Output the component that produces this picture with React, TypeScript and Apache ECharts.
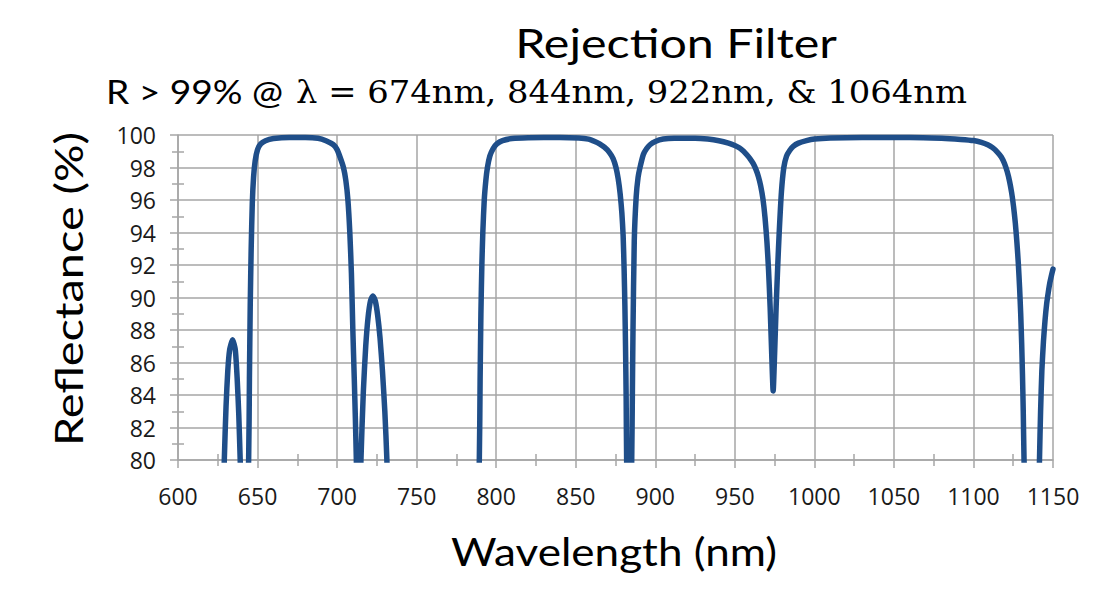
import React, { useEffect, useRef } from "react";
import * as echarts from "echarts";

// Measured spectrum: [wavelength (nm), reflectance (%)]; values under 80 fall below the visible range
const spectrum: [number, number][] = [
  [600, 40], [620, 55], [626.5, 70],
  [629.1, 80], [630.2, 83.3], [631.3, 85.5], [632.5, 86.8], [634.3, 87.4], [636, 86.8], [637.2, 85], [638.2, 82.8], [639.1, 80],
  [641.7, 72],
  [644.4, 80], [644.9, 85], [645.4, 89.5], [646, 93], [646.7, 95.8], [647.5, 97.4], [648.5, 98.4], [650, 99.1], [652, 99.45],
  [655, 99.65], [660, 99.78], [670, 99.85], [680, 99.85], [688, 99.8], [693, 99.65], [697.7, 99.4], [700, 99.1], [702, 98.6],
  [704, 98], [705.5, 97.2], [706.8, 96], [708, 94], [709, 91.5], [709.9, 88], [710.8, 85], [711.5, 82.5], [712.1, 80],
  [713.5, 72],
  [715, 80], [716.5, 84.2], [718, 87], [719.5, 88.8], [721, 89.8], [722.5, 90.1], [724, 89.8], [725.5, 88.9], [727, 87.5],
  [728.5, 85.5], [730, 83], [731.3, 80],
  [735, 65], [760, 40], [785, 65],
  [789.4, 80], [789.9, 85], [790.4, 89], [791, 92], [791.6, 94], [792.5, 96], [793.5, 97.2], [794.5, 98], [796, 98.7],
  [798, 99.15], [800.4, 99.45], [804, 99.65], [810, 99.78], [820, 99.83], [840, 99.85], [852, 99.82], [858, 99.75],
  [862, 99.6], [865, 99.45], [868, 99.25], [871, 98.95], [873.5, 98.55], [875.3, 98], [876.7, 97.3], [877.9, 96.4],
  [879, 95.2], [879.8, 93.8], [880.4, 91.8], [880.9, 89.5], [881.3, 87], [881.7, 83.8], [882, 80],
  [883.6, 72],
  [885.2, 80], [885.6, 84], [886, 88], [886.8, 93.5], [888, 96.2], [889.2, 97.4], [890.4, 98], [892.5, 98.8], [894.5, 99.15],
  [896.7, 99.4], [900, 99.6], [905, 99.75], [912, 99.8], [925, 99.8], [933, 99.75], [940, 99.65], [946, 99.5], [950, 99.35],
  [953, 99.2], [955.5, 99], [957.4, 98.8], [959.5, 98.55], [961.5, 98.25], [963.2, 97.9], [964.8, 97.45], [966.3, 96.85],
  [967.7, 96.05], [969, 94.9], [970.2, 93.4], [971.2, 91.7], [972.2, 89.4], [973.2, 86.5], [974.1, 84.25], [975, 86.5],
  [976, 89.5], [977, 92], [977.9, 94], [979.3, 96.5], [980.8, 98], [982.5, 98.7], [984.5, 99.05], [986.7, 99.3], [990, 99.5],
  [995, 99.65], [1000, 99.75],
  [1010, 99.82], [1030, 99.85], [1060, 99.85], [1080, 99.8], [1092, 99.73], [1100, 99.66], [1105, 99.55], [1109, 99.4],
  [1112, 99.22], [1115, 98.95], [1117.5, 98.65], [1119.5, 98.25], [1121.2, 97.75], [1122.7, 97.15], [1124, 96.45],
  [1125.2, 95.6], [1126.3, 94.6], [1127.3, 93.4], [1128.2, 92.1], [1129, 90.6], [1129.7, 89], [1130.3, 87.2],
  [1130.8, 85.3], [1131.3, 83], [1131.8, 80],
  [1134, 72], [1137, 65], [1140, 72],
  [1141.5, 80], [1142.2, 83], [1143, 85.5], [1144, 87.3], [1145, 88.6], [1146, 89.6], [1147, 90.3], [1148, 90.9],
  [1149, 91.35], [1150, 91.75],
];

const xMin = 600;
const xMax = 1150;
const xStep = 50;
const yMin = 80;
const yMax = 100;
const yStep = 2;

const titleText = "Rejection Filter";
const subtitleSans = "R > 99% @";
const subtitleSerif = "λ = 674nm, 844nm, 922nm, & 1064nm";
const xName = "Wavelength (nm)";
const yName = "Reflectance (%)";

const GRID_COLOR = "#A6A6A6";
const LINE_COLOR = "#1F4E89";
const SANS = "Lato, 'Open Sans', sans-serif";
const TICK_FONT = "'Open Sans', Lato, sans-serif";

export default function App() {
  const ref = useRef<HTMLDivElement>(null);

  useEffect(() => {
    if (!ref.current) return;
    const chart = echarts.init(ref.current, null, { renderer: "svg" });

    const baseX = { type: "value", min: xMin, max: xMax, interval: xStep, position: "bottom" };
    const baseY = { type: "value", min: yMin, max: yMax, interval: yStep, position: "left" };
    const gridLine = { color: GRID_COLOR, width: 1.5 };

    chart.setOption({
      animation: false,
      backgroundColor: "#ffffff",
      grid: { left: 178, right: 55, top: 135, bottom: 131, containLabel: false },
      xAxis: [
        {
          ...baseX,
          axisLine: { show: true, lineStyle: gridLine },
          axisTick: { show: true, inside: false, length: 8, lineStyle: gridLine },
          minorTick: { show: true, splitNumber: 2, length: 6, lineStyle: gridLine },
          axisLabel: {
            show: true,
            margin: 24,
            color: "#1a1a1a",
            fontSize: 23,
            fontFamily: TICK_FONT,
            formatter: (v: number) => String(v),
          },
          splitLine: { show: true, lineStyle: gridLine },
        },
        {
          ...baseX,
          axisLine: { show: false },
          axisTick: { show: false, inside: true },
          minorTick: { show: true, splitNumber: 2, length: 6, lineStyle: gridLine },
          axisLabel: { show: false },
          splitLine: { show: false },
        },
      ],
      yAxis: [
        {
          ...baseY,
          axisLine: { show: true, lineStyle: gridLine },
          axisTick: { show: true, inside: false, length: 8, lineStyle: gridLine },
          minorTick: { show: true, splitNumber: 2, length: 6, lineStyle: gridLine },
          axisLabel: {
            show: true,
            margin: 22,
            color: "#1a1a1a",
            fontSize: 23,
            fontFamily: TICK_FONT,
            formatter: (v: number) => String(v),
          },
          splitLine: { show: true, lineStyle: gridLine },
        },
        {
          ...baseY,
          axisLine: { show: false },
          axisTick: { show: false, inside: true },
          minorTick: { show: true, splitNumber: 2, length: 6, lineStyle: gridLine },
          axisLabel: { show: false },
          splitLine: { show: false },
        },
      ],
      graphic: [
        {
          type: "text",
          x: 676,
          y: 42,
          scaleX: 1.18,
          style: {
            text: titleText,
            fontFamily: SANS,
            fontSize: 41,
            fill: "#000",
            align: "center",
            verticalAlign: "middle",
          },
        },
        {
          type: "text",
          x: 106,
          y: 92,
          scaleX: 1.16,
          style: {
            text: subtitleSans,
            fontFamily: SANS,
            fontSize: 32,
            fill: "#000",
            align: "left",
            verticalAlign: "middle",
          },
        },
        {
          type: "text",
          x: 296,
          y: 92,
          scaleX: 1.04,
          style: {
            text: subtitleSerif,
            fontFamily: "'DejaVu Serif', 'Liberation Serif', serif",
            fontSize: 32.5,
            fill: "#000",
            align: "left",
            verticalAlign: "middle",
          },
        },
        {
          type: "text",
          x: 614,
          y: 551,
          scaleX: 1.13,
          style: {
            text: xName,
            fontFamily: SANS,
            fontSize: 39,
            fill: "#000",
            align: "center",
            verticalAlign: "middle",
          },
        },
        {
          type: "text",
          x: 68,
          y: 289,
          rotation: Math.PI / 2,
          scaleX: 1.2,
          style: {
            text: yName,
            fontFamily: SANS,
            fontSize: 39,
            fill: "#000",
            align: "center",
            verticalAlign: "middle",
          },
        },
      ],
      series: [
        {
          type: "line",
          xAxisIndex: 0,
          yAxisIndex: 0,
          data: spectrum,
          showSymbol: false,
          symbol: "none",
          smooth: 0.2,
          clip: true,
          lineStyle: { color: LINE_COLOR, width: 5.5, cap: "round", join: "round" },
          emphasis: { disabled: true },
        },
      ],
    });

    return () => chart.dispose();
  }, []);

  return (
    <div
      ref={ref}
      style={{ position: "fixed", left: 0, top: 0, width: 1108, height: 591, background: "#fff" }}
    />
  );
}
